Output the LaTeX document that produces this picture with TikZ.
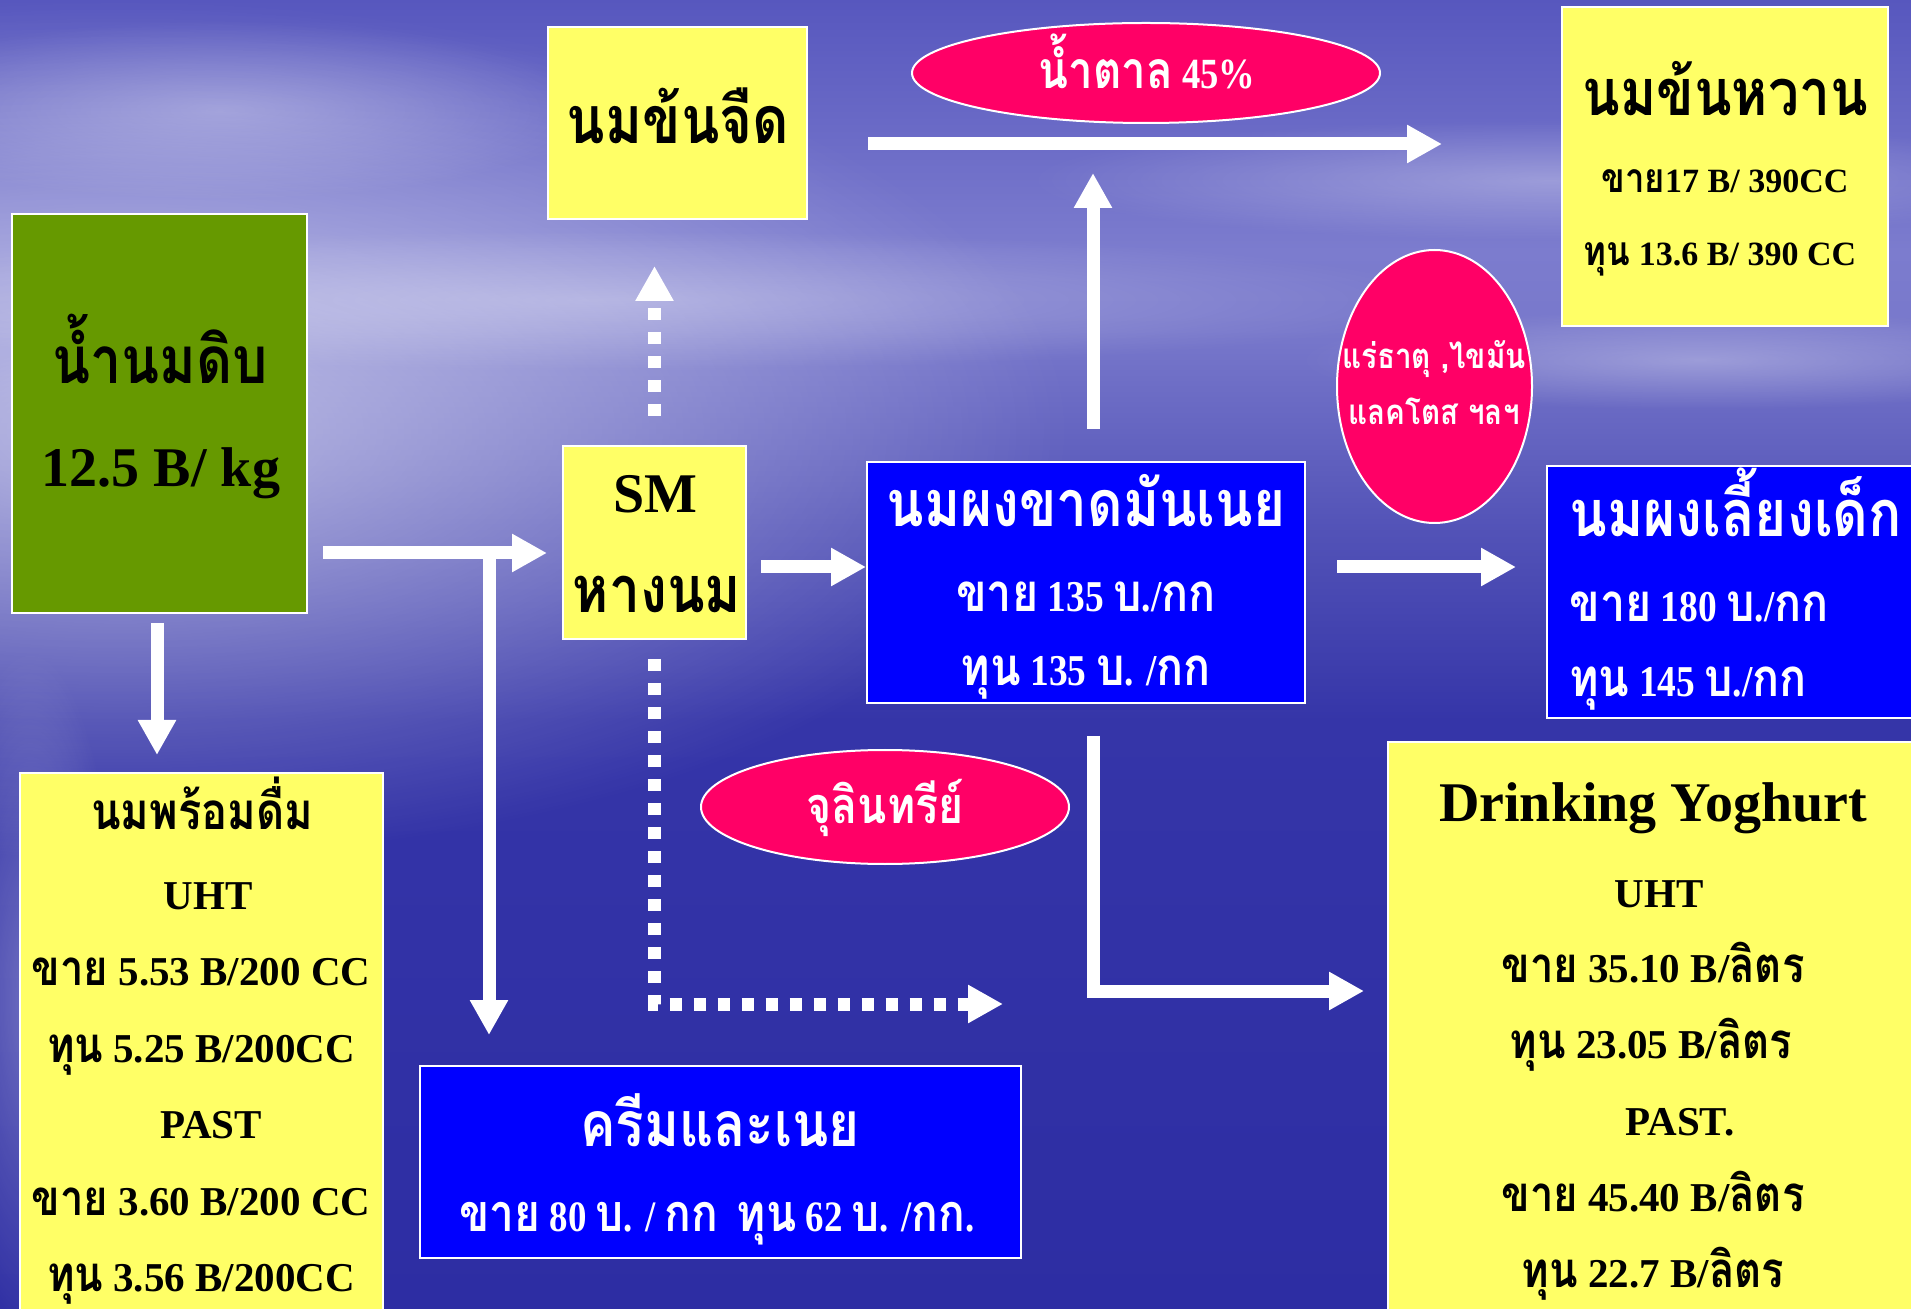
\documentclass[tikz,border=0pt]{standalone}
\usepackage{fontspec}
\setmainfont{Liberation Serif}
\newfontfamily\thfont[Script=Thai,Scale=1.2,FakeStretch=0.85]{Loma}
\newfontfamily\condfont[FakeStretch=0.85]{Liberation Serif}
\usetikzlibrary{arrows.meta,shapes.geometric,calc,fadings}
\newcommand\tht[1]{{\thfont #1}}
\newcommand\fs[1]{\fontsize{#1}{#1}\selectfont\bfseries}
\definecolor{boxyellow}{HTML}{FFFF66}
\definecolor{boxgreen}{HTML}{669900}
\definecolor{boxblue}{HTML}{0000FF}
\definecolor{pinkfill}{HTML}{FF0066}
\definecolor{skyA}{HTML}{5757BE}
\definecolor{skyB}{HTML}{7C7CCE}
\definecolor{skyC}{HTML}{7878CB}
\definecolor{skyD}{HTML}{5454B8}
\definecolor{skyE}{HTML}{3535A8}
\definecolor{skyF}{HTML}{2D2DA3}
\tikzfading[name=softglow, inner color=transparent!45, outer color=transparent!100]
\tikzfading[name=softcloud, inner color=transparent!70, outer color=transparent!100]
\tikzset{
  box/.style={draw=white, line width=1pt, inner sep=0pt},
  ybox/.style={box, fill=boxyellow},
  bbox/.style={box, fill=boxblue},
  gbox/.style={box, fill=boxgreen},
  pill/.style={ellipse, draw=white, line width=1pt, fill=pinkfill, inner sep=0pt},
  flow/.style={draw=white, line width=6.5pt, -{Triangle[length=17.5pt,width=18pt]}},
  dotflow/.style={flow, dash pattern=on 6pt off 6pt},
  lbl/.style={anchor=base, inner sep=0pt},
  blk/.style={lbl, text=black},
  wht/.style={lbl, text=white},
}
\begin{document}
\begin{tikzpicture}[x=0.5pt,y=-0.5pt]
\useasboundingbox (0,0) rectangle (1911,1309);
\clip (0,0) rectangle (1911,1309);
% background sky and sea
\shade[top color=skyA, bottom color=skyB] (0,-1) rectangle (1912,251);
\shade[top color=skyB, bottom color=skyC] (0,250) rectangle (1912,331);
\shade[top color=skyC, bottom color=skyD] (0,330) rectangle (1912,521);
\shade[top color=skyD, bottom color=skyE] (0,520) rectangle (1912,721);
\shade[top color=skyE, bottom color=skyF] (0,720) rectangle (1912,1310);
\fill[white, path fading=softglow] (120,430) ellipse [x radius=950, y radius=430];
\fill[white, path fading=softcloud] (600,300) ellipse [x radius=850, y radius=70];
\fill[white, path fading=softcloud] (220,110) ellipse [x radius=380, y radius=90];
\fill[white, path fading=softcloud] (1550,180) ellipse [x radius=520, y radius=60];
\fill[white, path fading=softcloud] (1700,360) ellipse [x radius=400, y radius=50];
\fill[white, path fading=softcloud] (30,1000) ellipse [x radius=90, y radius=350];

% boxes
\node[gbox, minimum width=147.5pt, minimum height=199.5pt] (raw) at (159.5,413.5) {};
\node[ybox, minimum width=129.5pt, minimum height=96pt] (evap) at (677.5,123) {};
\node[ybox, minimum width=163pt, minimum height=159.5pt] (sweet) at (1725,166.5) {};
\node[pill, minimum width=234pt, minimum height=50pt] (sugar) at (1146,73) {};
\node[pill, minimum width=97.5pt, minimum height=136.5pt] (mineral) at (1434.5,386.5) {};
\node[ybox, minimum width=91.5pt, minimum height=96.5pt] (sm) at (654.5,542.5) {};
\node[bbox, minimum width=219pt, minimum height=120.5pt] (skim) at (1086,582.5) {};
\node[bbox, minimum width=191.5pt, minimum height=126pt] (infant) at (1738.5,592) {};
\node[ybox, minimum width=181.5pt, minimum height=278.5pt] (drink) at (201.5,1051.5) {};
\node[pill, minimum width=184pt, minimum height=57pt] (micro) at (885,807) {};
\node[bbox, minimum width=300.5pt, minimum height=96pt] (cream) at (720.5,1162) {};
\node[ybox, minimum width=271pt, minimum height=294pt] (yog) at (1659,1036) {};

% connectors
\coordinate (split) at ($(raw.east |- sm.west)+(181,10.5)$);
\draw[flow] ($(raw.east |- sm.west)+(15,10.5)$) -- ($(sm.west)+(-15,10.5)$);
\draw[flow] (split) -- ($(split |- cream.north)+(0,-30)$);
\draw[flow] ($(raw.south)+(-2.5,9)$) -- ($(raw.south |- drink.north)+(-2.5,-17)$);
\draw[dotflow] ($(sm.north)+(0,-29)$) -- ($(sm.north |- evap.south)+(0,46)$);
\draw[flow] ($(sm.east)+(14,24.5)$) -- ($(sm.east -| skim.west)+(0,24.5)$);
\draw[flow] ($(skim.north)+(7,-32)$) -- ($(skim.north)+(7,-288)$);
\draw[flow] ($(evap.east)+(60,21)$) -- ($(evap.east -| sweet.west)+(-119,21)$);
\draw[flow] ($(skim.east)+(31,-15.5)$) -- ($(skim.east -| infant.west)+(-30,-15.5)$);
\draw[flow] ($(skim.south)+(7,32)$) |- ($(yog.west)+(-23,-45)$);
\draw[dotflow] ($(sm.south)+(0,19)$) |- ($(cream.north east)+(-19,-61)$);

% texts
\node[blk, font=\fs{27.3}] (rawT) at (160,384) {\tht{น้ำนมดิบ}};
\node[blk, font=\fs{28}] (rawP) at (161,487) {12.5 B/ kg};
\node[blk, font=\fs{27.6}] (evapT) at (678,144) {\tht{นมข้นจืด}};
\node[wht, font=\condfont\fs{21.5}] (sugarT) at (1147,89) {\tht{น้ำตาล} 45\%};
\node[blk, font=\fs{27}] (sweetT) at (1725,116) {\tht{นมข้นหวาน}};
\node[blk, font=\fs{17}] (sweet1) at (1725,193) {\tht{ขาย}17 B/ 390CC};
\node[blk, font=\fs{17}] (sweet2) at (1720,266) {\tht{ทุน} 13.6 B/ 390 CC};
\node[wht, font=\condfont\fs{14.5}] (min1) at (1434,369) {\tht{แร่ธาตุ ,ไขมัน}};
\node[wht, font=\condfont\fs{14.5}] (min2) at (1434,425) {\tht{แลคโตส ฯลฯ}};
\node[blk, font=\fs{28}] (smT) at (655,513) {SM};
\node[blk, font=\fs{27}] (smT2) at (657,613) {\tht{หางนม}};
\node[wht, font=\fs{26.9}] (skimT) at (1086,527) {\tht{นมผงขาดมันเนย}};
\node[wht, font=\condfont\fs{22}] (skim1) at (1086,612) {\tht{ขาย} 135 \tht{บ}./\tht{กก}};
\node[wht, font=\condfont\fs{22}] (skim2) at (1086,686) {\tht{ทุน} 135 \tht{บ}. /\tht{กก}};
\node[wht, font=\fs{27}, anchor=base west] (infT) at (1569,537) {\tht{นมผงเลี้ยงเด็ก}};
\node[wht, font=\condfont\fs{22}, anchor=base west] (inf1) at (1569,622) {\tht{ขาย} 180 \tht{บ}./\tht{กก}};
\node[wht, font=\condfont\fs{22}, anchor=base west] (inf2) at (1569,697) {\tht{ทุน} 145 \tht{บ}./\tht{กก}};
\node[blk, font=\fs{21.3}] (drT) at (202,829) {\tht{นมพร้อมดื่ม}};
\node[blk, font=\fs{20.5}] (dr1) at (208,909) {UHT};
\node[blk, font=\fs{20.5}] (dr2) at (201,985) {\tht{ขาย} 5.53 B/200 CC};
\node[blk, font=\fs{20.5}] (dr3) at (201,1062) {\tht{ทุน} 5.25 B/200CC};
\node[blk, font=\fs{20.5}] (dr4) at (211,1138) {PAST};
\node[blk, font=\fs{20.5}] (dr5) at (201,1215) {\tht{ขาย} 3.60 B/200 CC};
\node[blk, font=\fs{20.5}] (dr6) at (201,1291) {\tht{ทุน} 3.56 B/200CC};
\node[wht, font=\fs{21}] (microT) at (885,823) {\tht{จุลินทรีย์}};
\node[wht, font=\fs{26}] (creamT) at (720,1146) {\tht{ครีมและเนย}};
\node[wht, font=\condfont\fs{21.7}] (cream1) at (717,1231) {\tht{ขาย} 80 \tht{บ}. / \tht{กก}\ \ \tht{ทุน} 62 \tht{บ}. /\tht{กก}.};
\node[blk, font=\fs{28}] (yogT) at (1653,821) {Drinking Yoghurt};
\node[blk, font=\fs{20.5}] (yg1) at (1659,907) {UHT};
\node[blk, font=\fs{20.5}] (yg2) at (1653,982) {\tht{ขาย} 35.10 B/\tht{ลิตร}};
\node[blk, font=\fs{20.5}] (yg3) at (1651,1058) {\tht{ทุน} 23.05 B/\tht{ลิตร}};
\node[blk, font=\fs{20.5}] (yg4) at (1680,1135) {PAST.};
\node[blk, font=\fs{20.5}] (yg5) at (1653,1211) {\tht{ขาย} 45.40 B/\tht{ลิตร}};
\node[blk, font=\fs{20.5}] (yg6) at (1653,1287) {\tht{ทุน} 22.7 B/\tht{ลิตร}};
\end{tikzpicture}
\end{document}
